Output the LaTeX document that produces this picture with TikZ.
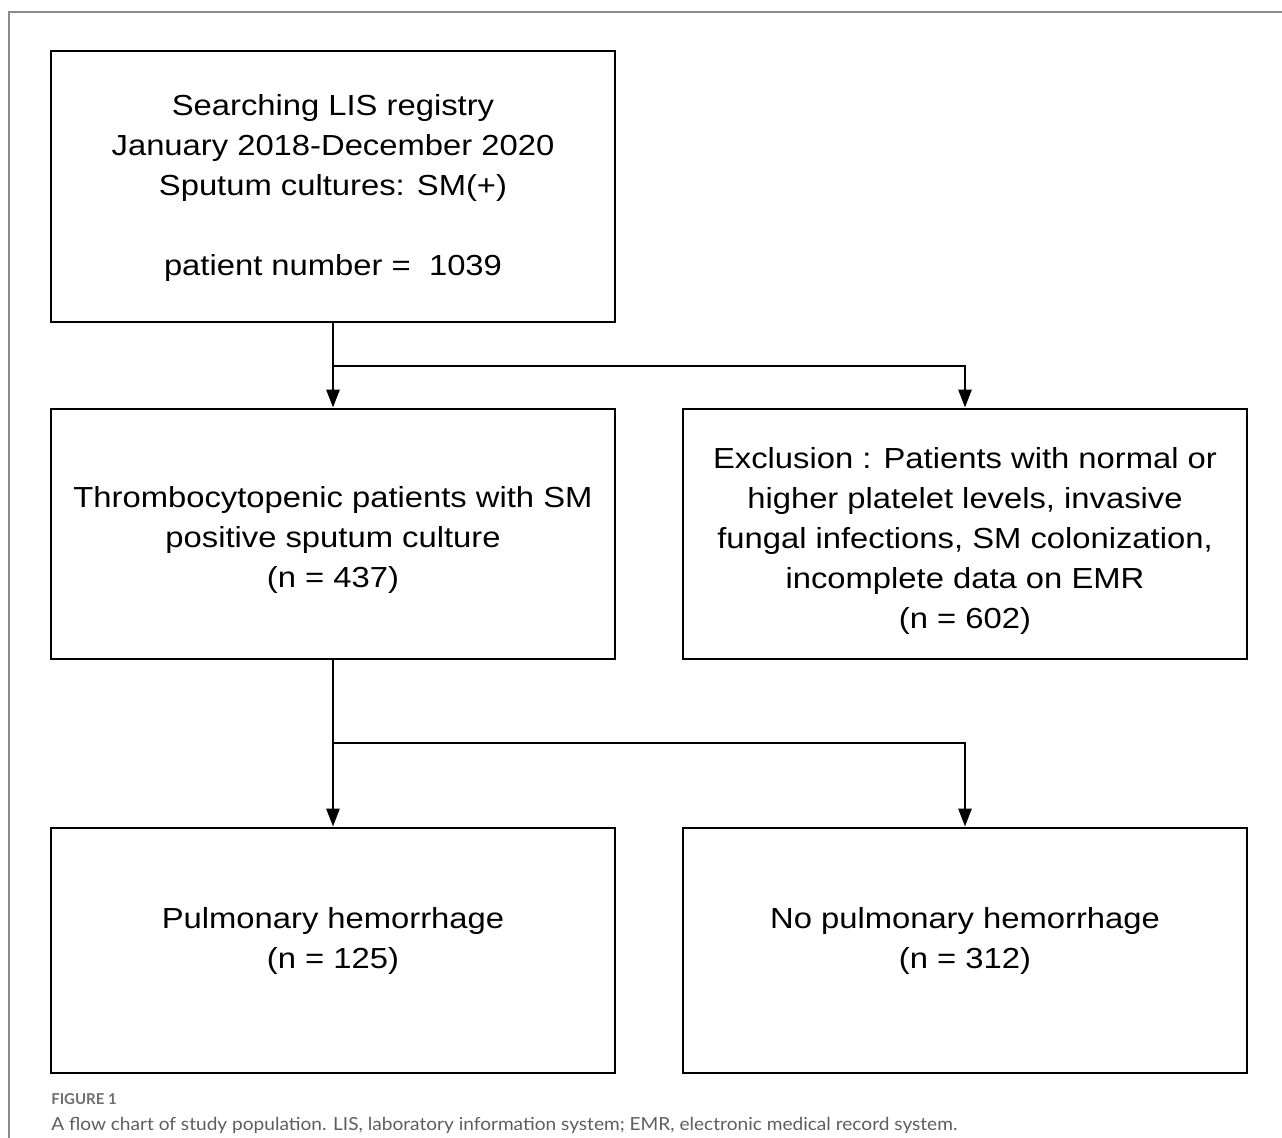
\documentclass[tikz,border=0pt]{standalone}
\usepackage{fontspec}
\setmainfont[FakeStretch=1.13]{Liberation Sans}
\newfontfamily\capfont[FakeStretch=1.06]{Lato}
\newfontfamily\figfont{Lato}
\usetikzlibrary{arrows.meta}
\definecolor{frame}{HTML}{8A8A8A}
\definecolor{captext}{HTML}{5E5E5E}
\definecolor{figtext}{HTML}{6E6E6E}
\begin{document}
\begin{tikzpicture}[x=0.75pt,y=-0.75pt,
  box/.style={draw=black,line width=2.1pt,minimum width=423pt,inner sep=0pt},
  txt/.style={align=center,inner sep=0pt,font=\fontsize{21.75pt}{30pt}\selectfont},
  arr/.style={line width=2pt,-{Triangle[length=13.5pt,width=9.75pt]}},
  captionstyle/.style={anchor=base west,inner sep=0pt}]
\useasboundingbox (0,0) rectangle (1282,1138);
\draw[frame,line width=1.1pt] (9,1145) -- (9,12) -- (1290,12);
% boxes
\node[box,minimum height=203.25pt] (b1) at (333,186.5) {};
\node[txt] (t1) at (333,188) {Searching LIS registry\\January 2018-December 2020\\Sputum cultures: SM(+)\\[30pt]patient number =\ \ 1039};
\node[box,minimum height=187.5pt] (b2) at (333,534) {};
\node[txt] (t2) at (333,539.5) {Thrombocytopenic patients with SM\\positive sputum culture\\(n = 437)};
\node[box,minimum height=187.5pt] (b3) at (965,534) {};
\node[txt] (t3) at (965,540.5) {Exclusion : Patients with normal or\\higher platelet levels, invasive\\fungal infections, SM colonization,\\incomplete data on EMR\\(n = 602)};
\node[box,minimum height=183.75pt] (b4) at (333,950.5) {};
\node[txt] (t4) at (333,941) {Pulmonary hemorrhage\\(n = 125)};
\node[box,minimum height=183.75pt] (b5) at (965,950.5) {};
\node[txt] (t5) at (965,941) {No pulmonary hemorrhage\\(n = 312)};
% connectors
\coordinate (s1) at (333,366);
\coordinate (c1) at (965,366);
\draw[arr] (b1.south) -- (b2.north);
\draw[arr] (s1) -- (c1) -- (b3.north);
\coordinate (s2) at (333,743);
\coordinate (c2) at (965,743);
\draw[arr] (b2.south) -- (b4.north);
\draw[arr] (s2) -- (c2) -- (b5.north);
% caption
\node[captionstyle,text=figtext,font=\figfont\fontsize{11.25pt}{13pt}\selectfont\bfseries] (fig) at (51,1104) {FIGURE 1};
\node[captionstyle,text=captext,font=\capfont\fontsize{13.5pt}{16pt}\selectfont] (captxt) at (51,1130) {A flow chart of study population. LIS, laboratory information system; EMR, electronic medical record system.};
\end{tikzpicture}
\end{document}
